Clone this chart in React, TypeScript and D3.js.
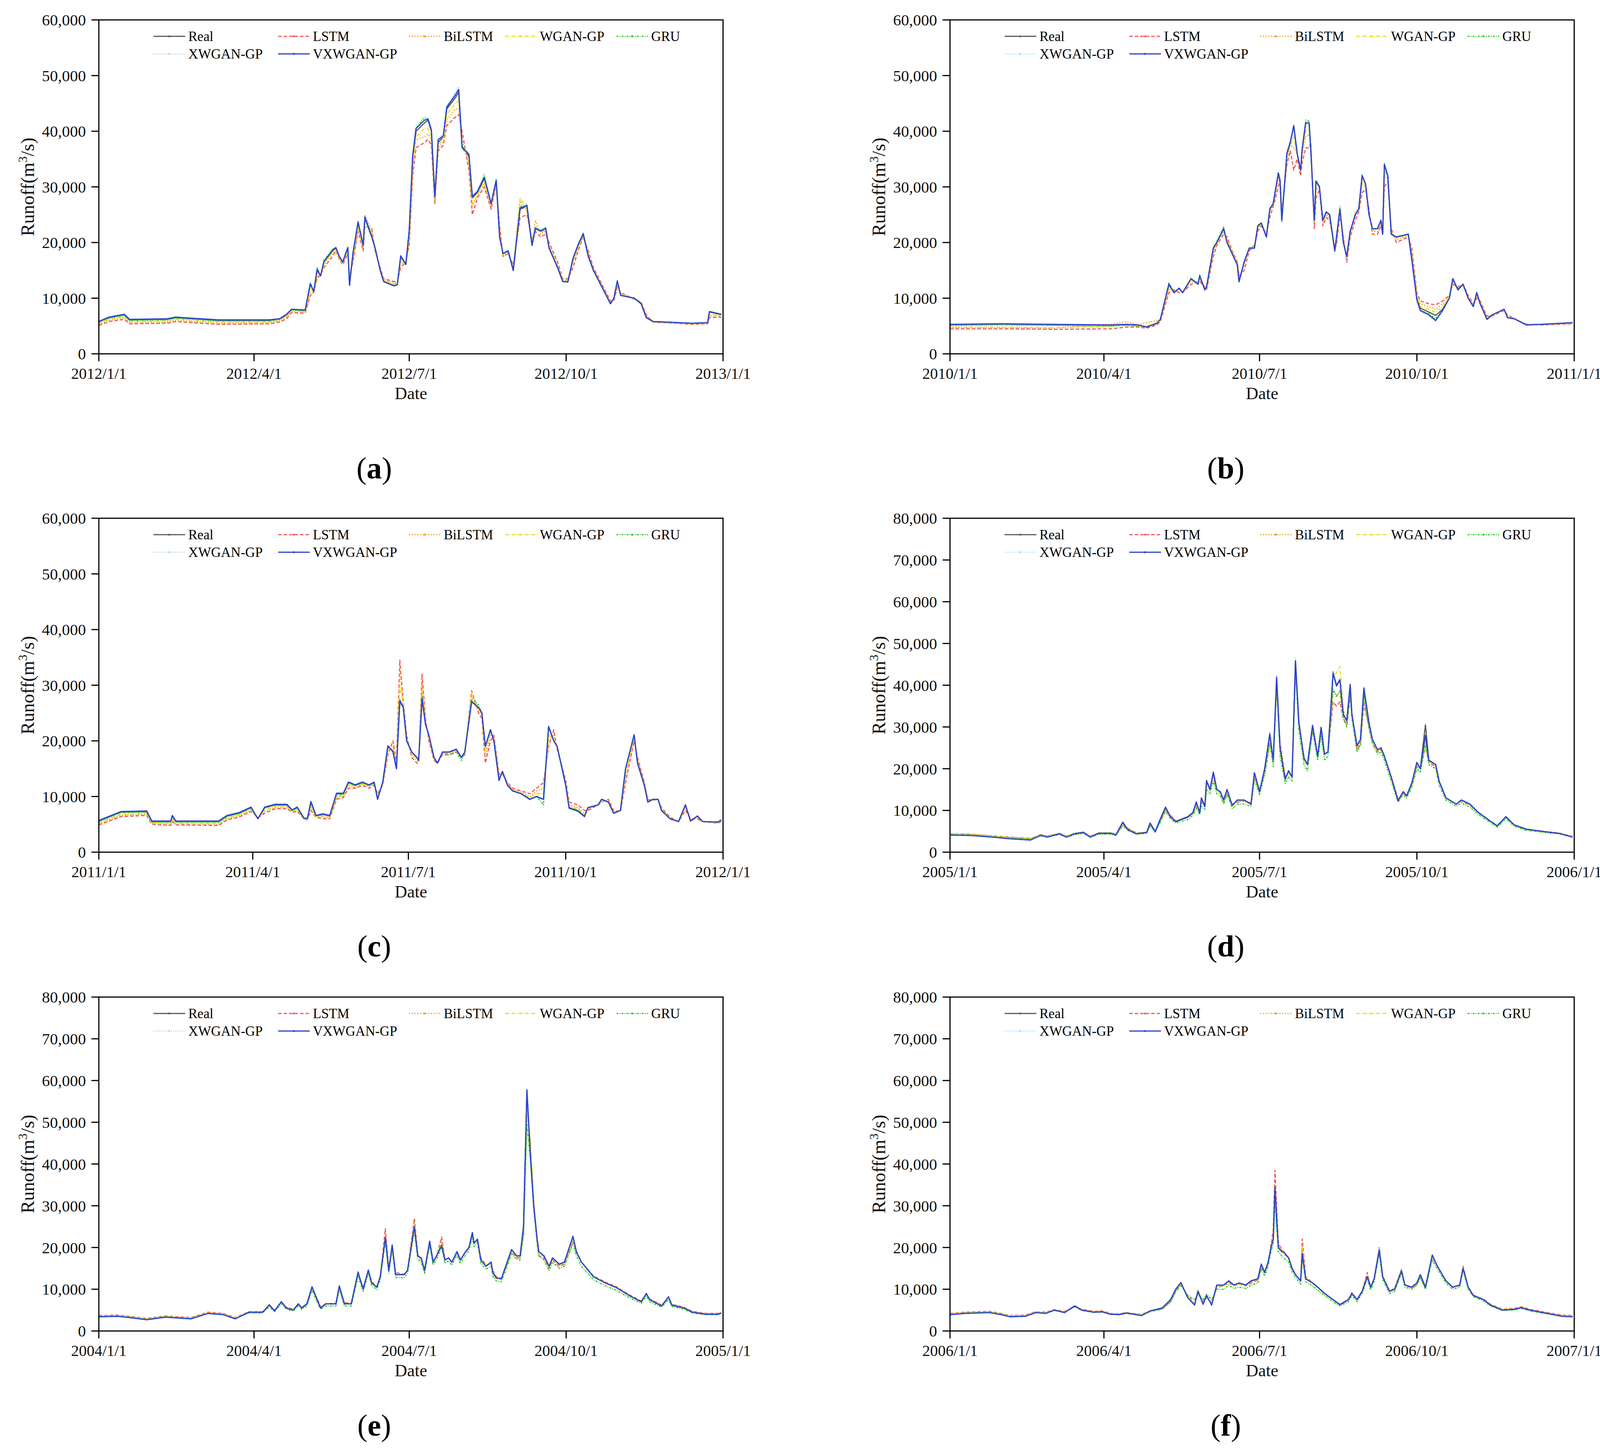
import React from 'react';
import * as d3 from 'd3';

// ---------- series meta ----------
const SERIES_NAMES = ['Real', 'LSTM', 'BiLSTM', 'WGAN-GP', 'GRU', 'XWGAN-GP', 'VXWGAN-GP'];
const SERIES_COLORS = ['#5a5a5a', '#f45a5a', '#f0a030', '#e6dc28', '#28cc28', '#9edff5', '#2a40d0'];
const SERIES_DASH = ['none', '9,5', '3,4', '9,3,2,3', '5,3,2,3', '2,3', 'none'];

// ---------- axes ----------
const Y_TICKS_60 = [0, 10000, 20000, 30000, 40000, 50000, 60000];
const Y_TICKS_80 = [0, 10000, 20000, 30000, 40000, 50000, 60000, 70000, 80000];
const PANEL_LABELS = ['a', 'b', 'c', 'd', 'e', 'f'];
const PANEL_YEARS = [2012, 2010, 2011, 2005, 2004, 2006];
const X_TITLE = 'Date';

// ---------- data (day of year offset, values in 10^3 m3/s) ----------
// (a) 2012
const aDays = [0,6,15,18,40,45,70,100,106,110, 113,121,124,126,128,130,132,137,139,141, 143,146,147,149,152,155,156,160,162,165, 167,173,175,177,180,182,184,186,191,193, 195,197,199,202,204,209,211,213,217,219, 222,226,230,233,235,237,240,243,247,251, 254,256,259,262,264,269,272,275,278,281, 284,287,290,295,300,302,304,306,314,318, 321,325,348,357,358,365];
const aReal = [5.8,6.5,7.0,6.1,6.2,6.5,6.0,6.0,6.3,7.0, 8.0,7.8,12.5,11.2,15.0,14.0,16.5,18.5,19.0,17.5, 16.5,19.0,12.5,18.0,23.5,19.5,24.5,21.0,19.0,15.0, 13.0,12.3,12.5,17.5,16.0,22.0,35.0,40.0,41.5,42.0, 40.0,28.0,38.0,39.0,44.0,46.0,47.0,37.0,35.5,28.0, 29.0,31.5,27.0,31.0,21.0,18.0,18.5,15.0,26.0,26.5, 19.5,22.5,22.0,22.5,19.0,15.5,13.0,13.0,17.0,19.5, 21.5,17.5,15.0,12.0,9.0,10.0,13.0,10.5,10.0,9.0, 6.5,5.8,5.5,5.6,7.5,7.0];
const aLSTM = [5.1,5.8,6.2,5.4,5.5,5.8,5.3,5.4,5.7,6.3, 7.4,7.3,10.5,11.0,13.5,14.2,15.5,17.5,18.5,17.0, 16.0,18.0,14.0,16.5,22.0,18.5,23.0,22.5,18.5,15.5, 13.5,13.0,13.0,15.5,16.5,19.5,32.0,37.0,38.0,38.5, 37.5,27.0,36.5,37.5,41.0,42.5,43.0,40.0,33.0,25.0, 28.0,30.0,26.0,30.5,23.0,17.5,18.0,16.0,24.5,25.0, 20.5,22.0,21.0,21.5,20.0,16.5,13.5,13.5,15.5,18.5, 21.0,18.5,15.5,12.5,9.5,9.5,12.0,11.0,9.8,9.3, 7.0,5.7,5.3,5.4,6.5,6.6];
const aBiLSTM = [5.3,6.0,6.5,5.6,5.7,6.0,5.5,5.6,5.9,6.6, 7.6,7.5,11.0,11.0,14.0,14.0,16.0,18.0,18.5,17.0, 16.2,18.5,13.5,17.0,22.5,19.0,25.0,22.0,18.5,15.0, 13.3,12.8,12.8,16.5,16.0,20.5,33.5,38.5,39.0,39.5, 38.5,27.5,37.0,38.0,42.0,44.0,44.0,38.5,34.0,26.5, 28.5,30.5,26.5,31.0,22.0,17.5,18.2,15.5,27.5,25.5, 20.0,24.0,21.5,22.0,19.5,16.0,13.5,13.3,16.5,19.0, 21.2,18.0,15.2,12.3,9.3,9.8,12.5,10.8,9.9,9.2, 6.8,5.7,5.4,5.5,6.8,6.8];
const aWGAN = [5.5,6.2,6.7,5.8,5.9,6.2,5.7,5.7,6.0,6.8, 7.8,7.6,11.8,11.0,14.5,14.0,16.2,18.2,18.8,17.2, 16.3,18.8,13.0,17.5,23.0,19.2,24.5,21.5,18.8,15.0, 13.2,12.6,12.7,17.0,16.0,21.0,34.0,39.0,40.5,40.5, 39.0,28.0,37.5,38.5,43.0,45.0,45.5,37.5,35.0,27.0, 28.5,31.0,26.8,31.0,21.5,17.8,18.3,15.3,28.0,26.0, 19.8,23.0,21.8,22.2,19.2,15.8,13.2,13.2,16.8,19.2, 21.3,17.8,15.1,12.1,9.1,9.9,12.8,10.6,9.9,9.1, 6.6,5.7,5.5,5.5,7.0,6.9];
const aGRU = [5.7,6.4,6.9,6.0,6.1,6.4,5.9,5.9,6.2,6.9, 7.9,7.7,12.8,11.2,15.5,14.0,16.8,18.8,19.0,17.5, 16.5,19.2,12.5,18.0,23.5,19.5,24.0,21.0,19.0,15.0, 13.0,12.3,12.5,17.5,16.0,22.0,35.5,40.5,42.5,42.0, 40.0,28.5,38.5,39.0,44.5,46.5,47.5,37.0,36.0,28.5, 29.0,32.0,27.0,31.0,21.0,18.0,18.5,15.0,26.5,26.5, 19.5,22.5,22.0,22.5,19.0,15.5,13.0,13.0,17.0,19.5, 21.5,17.5,15.0,12.0,9.0,10.0,13.0,10.5,10.0,9.0, 6.5,5.8,5.5,5.6,7.5,7.0];
const aXW = [5.9,6.6,7.0,6.2,6.3,6.6,6.1,6.1,6.4,7.1, 8.1,7.9,12.8,11.0,15.5,14.2,16.8,19.0,19.2,17.5, 16.5,19.2,12.3,18.2,24.0,19.5,24.8,21.2,19.2,15.2, 13.0,12.3,12.5,17.8,16.2,22.5,36.0,41.0,42.5,42.5, 40.5,28.5,39.0,39.5,44.5,47.0,48.0,37.5,36.0,28.5, 29.5,32.5,27.0,31.5,21.0,18.2,18.8,15.2,26.5,27.0, 19.8,22.8,22.2,22.8,19.2,15.8,13.0,13.0,17.2,19.8, 21.8,17.8,15.0,12.0,9.0,10.0,13.2,10.5,10.0,9.0, 6.5,5.8,5.5,5.6,7.5,7.0];
const aVX = [5.8,6.6,7.1,6.2,6.3,6.6,6.1,6.1,6.3,7.1, 8.0,7.9,12.6,11.2,15.2,14.0,16.6,18.6,19.1,17.5, 16.5,19.1,12.3,18.1,23.7,19.5,24.6,21.1,19.0,15.0, 13.0,12.2,12.4,17.6,16.1,22.2,35.5,40.5,42.0,42.2, 40.2,28.2,38.5,39.2,44.3,46.5,47.5,37.2,35.8,28.2, 29.2,31.7,27.0,31.2,21.0,18.0,18.5,15.0,26.2,26.7, 19.5,22.6,22.1,22.6,19.0,15.5,13.0,12.9,17.1,19.6, 21.6,17.5,15.0,12.0,9.0,10.0,13.1,10.5,10.0,9.0, 6.5,5.8,5.5,5.6,7.6,7.1];

// (b) 2010
const bDays = [0,30,60,94,103,110,115,121,123,128, 131,134,136,141,145,146,149,150,154,156, 160,162,165,168,169,172,175,178,180,182, 185,187,189,192,193,194,197,199,201,203, 205,206,208,210,211,213,214,216,218,220, 222,225,226,228,230,232,234,237,239,241, 243,245,247,250,252,253,254,256,258,261, 268,270,273,275,280,284,288,292,294,297, 300,303,306,308,310,314,317,324,326,330, 337,346,364];
const bReal = [5.2,5.3,5.2,5.1,5.2,5.1,4.9,5.5,6.2,12.5, 11.0,11.8,11.0,13.5,12.5,14.0,11.5,12.0,19.0,20.0, 22.5,20.0,18.0,16.0,13.0,16.5,19.0,19.0,23.0,23.5, 21.0,26.0,27.0,32.5,31.0,24.0,36.0,38.0,41.0,36.0, 33.0,37.0,41.5,41.5,36.5,24.0,31.0,30.0,24.0,25.5, 25.0,18.5,21.0,26.0,20.0,17.5,22.0,25.0,26.0,32.0, 30.5,25.0,22.5,22.5,24.0,21.5,34.0,32.0,21.5,21.0, 21.5,17.0,10.0,8.2,7.5,6.9,8.0,10.0,13.5,11.5, 12.5,10.0,8.5,11.0,9.0,6.2,7.0,8.0,6.5,6.3, 5.2,5.3,5.6];
const bLSTM = [4.5,4.5,4.4,4.5,4.8,4.8,4.6,5.2,5.8,11.0, 11.5,11.0,11.0,12.5,13.0,13.0,12.0,11.5,17.5,19.5, 21.5,21.0,18.5,16.5,14.0,15.0,18.5,19.5,22.0,23.0, 21.5,24.5,26.5,30.0,31.5,25.5,34.0,36.5,33.0,35.0, 32.0,34.5,37.0,37.0,38.0,22.5,28.0,29.5,23.0,24.5, 24.0,19.0,19.5,25.0,21.0,16.5,21.0,24.0,25.5,29.0, 29.5,26.0,21.5,21.5,23.0,22.0,30.0,31.0,22.5,20.0, 21.0,19.0,11.0,9.5,9.0,8.8,9.5,10.5,12.5,12.0, 12.5,10.5,9.0,10.0,9.5,6.8,6.8,7.8,7.0,6.3, 5.3,5.2,5.4];
const bBiLSTM = [4.7,4.7,4.6,5.3,5.8,5.2,5.6,6.0,6.0,11.5, 11.2,11.5,11.0,13.0,13.0,13.5,12.0,11.8,18.0,20.0, 22.0,20.5,18.5,16.5,13.5,16.0,19.0,19.5,22.5,23.5, 21.5,25.5,27.0,31.5,31.5,25.0,35.0,37.5,37.0,36.0, 32.5,36.0,39.0,39.5,37.5,23.5,29.5,30.0,23.5,25.0, 24.5,18.5,20.0,26.5,20.5,17.0,21.5,25.5,26.0,30.5, 30.0,25.5,22.0,22.0,23.5,21.5,32.0,31.5,22.0,20.5, 21.2,18.0,10.5,9.0,8.5,8.0,9.0,10.5,13.0,11.8, 12.5,10.2,8.8,10.5,9.2,6.5,7.0,8.0,6.8,6.3, 5.3,5.3,5.5];
const bWGAN = [4.8,4.8,4.7,4.9,5.3,5.0,5.0,5.6,6.1,12.0, 11.0,11.6,11.0,13.2,12.8,13.8,11.8,12.0,18.5,20.0, 22.0,20.3,18.2,16.2,13.3,16.3,19.0,19.2,22.8,23.3, 21.2,25.8,27.0,32.0,31.2,24.5,35.5,37.5,39.0,36.0, 33.0,36.5,40.0,40.5,37.0,23.8,30.5,30.0,23.8,25.2, 24.8,18.5,20.5,26.0,20.2,17.2,21.8,25.2,26.0,31.0, 30.2,25.2,22.3,22.3,23.8,21.5,33.0,31.8,21.8,20.8, 21.3,17.5,10.2,8.5,8.0,7.5,8.5,10.2,13.2,11.6, 12.5,10.1,8.6,10.8,9.1,6.3,7.0,8.0,6.6,6.3, 5.2,5.3,5.5];
const bGRU = [5.1,5.2,5.1,5.0,5.1,5.0,4.8,5.4,6.2,12.8, 11.0,11.8,11.0,13.6,12.5,14.2,11.5,12.0,19.2,20.2, 22.8,20.0,18.0,16.0,12.8,16.5,19.0,19.0,23.2,23.5, 21.0,26.2,27.0,32.5,31.0,23.8,36.2,38.2,41.0,36.0, 33.0,37.2,42.0,41.8,36.5,24.0,31.2,30.2,24.0,25.5, 25.0,18.3,21.0,26.2,20.0,17.3,22.0,25.0,26.0,32.2, 30.5,25.0,22.5,22.5,24.0,21.5,34.2,32.0,21.5,21.0, 21.5,17.0,9.8,7.8,7.2,6.3,7.8,10.0,13.6,11.5, 12.6,10.0,8.5,11.0,9.0,6.2,7.0,8.0,6.5,6.3, 5.2,5.3,5.6];
const bXW = [5.2,5.3,5.2,5.1,5.2,5.1,4.9,5.5,6.3,12.6, 11.0,11.8,11.0,13.5,12.5,14.0,11.4,12.0,19.0,20.2, 22.6,20.0,18.0,16.0,12.7,16.5,19.0,19.0,23.0,23.5, 21.0,26.0,27.2,32.7,31.0,23.5,36.0,38.2,41.2,36.0, 33.0,37.0,41.8,41.6,36.5,23.8,31.0,30.0,23.8,25.5, 25.0,18.2,21.0,26.2,20.0,17.2,22.0,25.0,26.0,32.0, 30.5,25.0,22.5,22.5,24.0,21.5,34.0,32.0,21.5,21.0, 21.5,16.8,9.5,7.5,7.0,5.8,7.6,10.0,13.5,11.5, 12.5,10.0,8.4,11.0,9.0,6.0,7.0,8.0,6.5,6.3, 5.2,5.3,5.6];
const bVX = [5.3,5.4,5.3,5.2,5.3,5.2,4.8,5.5,6.2,12.5, 11.0,11.8,11.0,13.5,12.5,14.0,11.5,12.0,19.0,20.0, 22.5,20.0,18.0,16.0,13.0,16.5,19.0,19.0,23.0,23.5, 21.0,26.0,27.0,32.5,31.0,24.0,36.0,38.0,41.0,36.0, 33.0,37.0,41.5,41.5,36.5,24.0,31.0,30.0,24.0,25.5, 25.0,18.5,21.0,26.0,20.0,17.5,22.0,25.0,26.0,32.0, 30.5,25.0,22.5,22.5,24.0,21.5,34.0,32.0,21.5,21.0, 21.5,17.0,9.7,7.8,7.0,6.0,7.8,10.0,13.5,11.5, 12.5,10.0,8.5,11.0,9.0,6.2,7.0,8.0,6.5,6.3, 5.2,5.3,5.6];

// (c) 2011
const cDays = [0,13,28,31,42,43,45,70,75,82, 89,93,97,103,110,113,116,120,122,124, 127,131,135,139,143,146,150,154,158,161, 163,166,169,172,174,176,178,180,183,186, 187,189,191,193,196,198,201,205,209,212, 214,218,222,224,226,229,231,234,236,239, 242,247,252,256,260,263,266,268,273,275, 280,284,286,292,294,298,301,305,308,313, 315,319,321,324,327,329,334,339,343,346, 350,353,362,364];
const cReal = [5.6,7.2,7.3,5.5,5.5,6.5,5.5,5.5,6.5,7.0, 8.0,6.0,8.0,8.5,8.5,7.5,8.0,6.0,6.0,9.0, 6.5,6.8,6.5,10.5,10.5,12.5,12.0,12.5,12.0,12.5, 9.5,12.5,19.0,18.0,15.0,27.0,26.0,20.0,18.0,17.0, 16.5,27.5,23.0,21.0,17.0,16.0,18.0,18.0,18.5,17.0, 18.0,27.0,26.0,25.0,19.0,22.0,20.0,13.0,14.5,12.0, 11.0,10.5,9.5,10.0,9.5,22.5,20.0,19.0,12.0,8.0, 7.5,6.5,8.0,8.5,9.5,9.0,7.0,7.5,15.0,21.0, 16.0,12.0,9.0,9.5,9.5,7.5,6.0,5.5,8.5,5.6, 6.5,5.5,5.4,5.8];
const cLSTM = [4.9,6.4,6.6,5.0,4.8,5.5,4.9,4.8,5.8,6.3, 7.3,6.2,7.0,7.8,7.8,7.2,7.3,6.0,5.8,7.5, 6.3,6.0,6.0,9.5,9.8,11.5,11.5,12.0,11.5,12.0, 10.5,12.0,17.5,20.0,16.0,34.5,27.0,21.0,17.0,16.0, 16.0,32.0,24.0,20.0,16.5,16.0,17.5,17.5,18.0,17.0, 17.5,29.0,25.0,24.0,16.0,20.0,21.0,14.0,14.0,12.5, 11.5,11.0,10.5,11.5,12.5,19.0,22.0,18.5,13.0,9.0, 8.5,7.5,7.5,8.5,9.0,9.5,7.5,7.3,12.5,20.0, 17.0,12.5,9.5,9.3,9.5,8.0,6.3,5.5,7.5,6.0, 6.0,5.5,5.2,5.5];
const cBiLSTM = [5.1,6.6,6.8,5.2,5.0,5.8,5.1,5.0,6.0,6.5, 7.5,6.2,7.3,8.0,8.0,7.3,7.5,6.0,5.9,8.0, 6.4,6.3,6.2,9.8,10.0,12.0,11.6,12.2,11.8,12.2, 10.0,12.2,18.0,19.0,15.5,33.0,26.5,20.5,17.5,16.5, 16.2,30.5,23.5,20.5,16.8,16.0,17.8,17.8,18.2,17.0, 17.8,29.0,25.5,24.5,17.0,21.0,20.5,13.5,14.2,12.3, 11.3,10.8,10.0,11.0,11.5,20.0,21.0,19.0,12.5,8.5, 8.0,7.0,7.8,8.5,9.2,9.2,7.2,7.4,13.5,20.5, 16.5,12.2,9.2,9.4,9.5,7.8,6.1,5.5,8.0,5.8, 6.3,5.5,5.3,5.6];
const cWGAN = [5.3,6.8,7.0,5.3,5.2,6.0,5.2,5.2,6.2,6.7, 7.7,6.1,7.6,8.2,8.2,7.4,7.7,6.0,5.9,8.5, 6.4,6.5,6.3,10.0,10.2,12.2,11.8,12.3,11.9,12.3, 9.8,12.3,18.5,18.5,15.2,30.0,26.5,20.2,17.8,16.8, 16.3,29.0,23.2,20.8,16.9,16.0,17.9,17.9,18.3,17.0, 17.9,28.0,25.8,24.8,18.0,21.5,20.2,13.2,14.3,12.1, 11.2,10.6,9.8,10.5,10.5,21.0,20.5,19.0,12.2,8.2, 7.8,6.8,7.9,8.5,9.3,9.1,7.1,7.4,14.0,20.8, 16.2,12.1,9.1,9.4,9.5,7.7,6.0,5.5,8.2,5.7, 6.4,5.5,5.3,5.7];
const cGRU = [5.5,7.1,7.2,5.4,5.4,6.3,5.4,5.4,6.4,6.9, 7.9,6.0,7.9,8.4,8.4,7.5,7.9,6.0,6.0,8.8, 6.5,6.7,6.5,10.3,10.4,12.4,12.0,12.4,12.0,12.4, 9.6,12.4,19.0,18.0,15.0,27.5,26.0,20.0,18.0,17.0, 16.5,28.0,23.0,21.0,17.0,16.0,18.0,17.5,18.0,16.5, 18.0,27.5,26.5,25.0,19.0,22.0,20.0,13.0,14.5,12.0, 11.0,10.5,9.5,10.0,8.5,22.5,20.0,19.0,12.0,8.0, 7.5,6.5,8.0,8.5,9.5,9.0,7.0,7.5,15.0,21.0, 16.0,12.0,9.0,9.5,9.5,7.5,6.0,5.5,8.5,5.6, 6.5,5.5,5.4,5.8];
const cXW = [5.7,7.3,7.4,5.6,5.6,6.6,5.6,5.6,6.6,7.1, 8.1,6.0,8.1,8.6,8.6,7.6,8.1,6.1,6.1,9.1, 6.6,6.9,6.6,10.6,10.6,12.6,12.1,12.6,12.1,12.6, 9.5,12.6,19.2,18.0,15.0,27.0,26.2,20.0,18.0,17.0, 16.5,27.5,23.0,21.0,17.0,16.0,18.0,18.0,18.5,17.0, 18.0,27.0,26.0,25.0,19.0,22.0,20.0,12.8,14.5,12.0, 11.0,10.5,9.5,10.0,9.5,22.5,20.0,19.0,12.0,7.8, 7.3,6.3,8.0,8.5,9.5,9.0,7.0,7.5,15.0,21.0, 16.0,12.0,9.0,9.5,9.5,7.5,6.0,5.5,8.5,5.6, 6.5,5.5,5.4,5.8];
const cVX = [5.7,7.3,7.4,5.6,5.6,6.6,5.6,5.6,6.6,7.1, 8.1,6.0,8.1,8.6,8.6,7.6,8.1,6.1,6.1,9.1, 6.6,6.9,6.6,10.6,10.6,12.6,12.1,12.6,12.1,12.6, 9.5,12.6,19.1,18.1,15.0,27.2,26.1,20.0,18.0,17.0, 16.5,27.6,23.0,21.0,17.0,16.0,18.0,18.0,18.5,17.0, 18.0,27.1,26.0,25.0,19.0,22.0,20.0,12.9,14.5,12.0, 11.0,10.5,9.5,10.0,9.5,22.6,20.0,19.0,12.0,7.9, 7.4,6.4,8.0,8.5,9.5,9.0,7.0,7.5,15.0,21.1, 16.0,12.0,9.0,9.5,9.5,7.5,6.0,5.5,8.5,5.6, 6.5,5.5,5.4,5.8];

// (d) 2005
const dDays = [0,12,25,35,47,53,57,64,68,73, 78,82,87,94,97,101,104,109,115,117, 120,123,126,129,132,139,142,144,146,147, 149,150,152,154,156,158,160,162,165,168, 172,176,178,181,184,187,189,191,193,196, 198,200,202,204,207,209,212,215,217,219, 221,224,226,228,230,232,234,235,238,240, 242,245,247,250,252,254,258,262,265,267, 270,273,275,278,280,284,286,290,296,299, 304,309,314,320,325,330,337,346,356,364];
const dReal = [4.3,4.2,3.8,3.5,3.2,4.2,3.8,4.5,3.8,4.5, 4.8,3.8,4.6,4.6,4.2,7.2,5.5,4.5,4.8,7.0, 5.0,8.0,10.8,8.5,7.4,8.5,9.5,12.0,9.5,13.0, 11.0,17.2,15.0,19.2,15.0,14.5,12.5,15.0,11.2,12.5, 12.5,11.5,19.0,14.5,20.0,28.5,22.0,42.0,25.0,17.5, 19.5,18.0,46.0,31.0,22.5,21.0,30.5,23.0,30.0,23.5, 24.0,43.2,40.0,41.5,33.0,31.5,40.2,33.0,25.5,27.0, 39.5,31.0,27.0,24.5,25.0,23.0,18.0,12.3,14.5,13.5, 16.5,21.5,20.0,30.5,22.0,21.0,17.0,13.0,11.5,12.5, 11.5,9.5,8.0,6.3,8.5,6.5,5.5,5.0,4.5,3.7];
const dLSTM = [4.4,4.3,3.9,3.6,3.3,4.0,3.9,4.4,3.9,4.4, 4.7,3.9,4.5,4.6,4.3,6.5,5.7,4.6,4.7,6.5, 5.2,7.5,10.0,8.8,7.5,8.3,9.3,11.0,9.8,12.0, 11.2,16.0,15.5,18.0,15.2,14.0,12.0,14.0,11.5,12.0, 12.2,11.8,18.0,15.0,19.0,26.0,22.5,39.5,26.0,18.0, 19.0,18.2,43.5,31.5,22.0,21.0,29.0,23.5,28.5,23.5, 24.0,36.0,35.0,36.0,32.0,30.5,37.0,33.5,24.5,26.0, 35.5,30.0,26.5,24.0,24.5,22.8,18.0,12.8,14.0,13.5, 16.0,20.5,20.0,25.5,21.5,20.5,17.0,13.0,11.5,12.2, 11.3,9.4,8.0,6.3,8.3,6.5,5.5,5.0,4.6,3.8];
const dBiLSTM = [4.4,4.3,3.9,3.6,3.3,4.1,3.9,4.5,3.9,4.5, 4.8,3.9,4.6,4.6,4.2,6.8,5.6,4.6,4.8,6.8, 5.1,7.8,10.2,8.6,7.4,8.4,9.4,11.5,9.6,12.5, 11.0,16.5,15.2,18.5,15.0,14.2,12.2,14.5,11.3,12.2, 12.3,11.6,18.5,14.7,19.5,27.0,22.2,40.5,25.5,17.8, 19.2,18.1,44.5,31.2,22.2,21.0,29.5,23.2,29.0,23.5, 24.0,39.0,37.0,39.0,32.5,31.0,38.0,33.2,25.0,26.5, 37.0,30.5,26.8,24.2,24.8,22.9,18.0,12.5,14.2,13.5, 16.2,21.0,20.0,27.0,21.8,20.8,17.0,13.0,11.5,12.3, 11.4,9.5,8.0,6.3,8.4,6.5,5.5,5.0,4.6,3.8];
const dWGAN = [4.3,4.2,3.8,3.5,3.2,4.1,3.8,4.4,3.8,4.4, 4.7,3.8,4.5,4.5,4.1,6.8,5.4,4.5,4.7,6.8, 5.0,7.7,10.3,8.4,7.3,8.3,9.3,11.5,9.4,12.5, 10.8,16.5,14.8,18.5,14.8,14.2,12.2,14.5,11.0,12.2, 12.2,11.3,18.5,14.3,19.5,27.5,21.8,40.5,24.5,17.3, 19.0,17.8,45.0,30.5,22.2,20.8,30.0,22.8,29.5,23.2, 23.8,42.0,43.0,44.5,34.0,31.5,39.0,33.0,25.2,26.8, 38.5,30.8,26.8,24.2,24.8,22.8,17.8,12.3,14.3,13.4, 16.2,21.0,19.8,27.0,21.8,20.8,16.8,12.9,11.4,12.3, 11.4,9.4,7.9,6.2,8.4,6.4,5.4,4.9,4.5,3.7];
const dGRU = [4.2,4.1,3.7,3.4,3.1,3.9,3.7,4.2,3.6,4.2, 4.5,3.6,4.3,4.3,4.0,6.3,5.2,4.3,4.5,6.3, 4.8,7.2,9.8,8.0,7.0,7.8,8.8,10.5,9.0,11.0, 10.2,15.0,14.0,17.0,14.0,13.5,11.5,13.8,10.5,11.5, 11.5,11.0,17.5,13.8,18.5,26.0,20.5,40.0,23.0,16.5, 18.0,17.0,44.0,29.0,21.0,19.5,29.0,22.0,28.0,22.0, 23.0,39.0,37.5,38.5,32.0,30.0,38.0,32.0,24.0,25.5, 37.5,29.5,26.0,23.5,24.0,22.0,17.0,12.0,13.8,13.0, 15.5,20.0,19.0,25.5,21.0,20.0,16.0,12.5,11.0,11.8, 10.8,9.0,7.6,6.0,8.0,6.2,5.2,4.8,4.4,3.7];
const dXW = [4.2,4.1,3.7,3.3,3.0,4.1,3.7,4.4,3.7,4.4, 4.7,3.7,4.5,4.5,4.1,7.1,5.4,4.4,4.7,6.9, 4.9,7.9,10.7,8.4,7.3,8.4,9.4,12.0,9.4,13.0, 10.9,17.2,15.0,19.2,15.0,14.5,12.5,15.0,11.2,12.5, 12.5,11.5,19.2,14.5,20.0,28.5,22.0,42.5,25.0,17.5, 19.5,18.0,46.5,31.0,22.5,21.0,30.5,23.0,30.0,23.5, 24.0,43.0,40.0,41.5,33.0,31.5,40.0,33.0,25.5,27.0, 39.5,31.0,27.0,24.5,25.0,23.0,18.0,12.3,14.5,13.5, 16.5,21.5,20.0,28.0,22.0,21.0,17.0,13.0,11.5,12.5, 11.5,9.5,8.0,6.3,8.5,6.5,5.5,5.0,4.5,3.7];
const dVX = [4.1,4.0,3.6,3.2,2.9,4.0,3.6,4.4,3.6,4.4, 4.7,3.6,4.5,4.5,4.1,7.1,5.4,4.4,4.7,6.9, 4.9,7.9,10.7,8.4,7.3,8.4,9.4,12.0,9.4,13.0, 10.9,17.1,15.0,19.1,15.0,14.5,12.5,15.0,11.2,12.5, 12.5,11.5,19.0,14.5,20.0,28.2,22.0,41.8,25.0,17.5, 19.5,18.0,45.8,31.0,22.5,21.0,30.3,23.0,29.8,23.5, 24.0,42.8,39.8,41.2,33.0,31.5,40.0,33.0,25.5,27.0, 39.2,31.0,27.0,24.5,25.0,23.0,18.0,12.3,14.5,13.5, 16.5,21.5,20.0,28.0,22.0,21.0,17.0,13.0,11.5,12.5, 11.5,9.5,8.0,6.3,8.5,6.5,5.5,5.0,4.5,3.6];

// (e) 2004
const eDays = [0,11,18,28,39,54,64,73,80,88, 96,100,103,107,110,114,117,119,122,125, 128,130,133,139,141,144,148,152,155,158, 160,163,165,168,170,172,174,179,181,185, 187,189,191,194,196,198,201,203,205,207, 210,212,215,217,219,220,222,224,227,230, 231,233,236,239,242,245,247,249,251,253, 255,257,258,261,264,266,270,273,278,280, 283,290,297,303,311,318,321,323,330,334, 336,343,348,356,363,365];
const eReal = [3.5,3.6,3.3,2.8,3.4,3.0,4.3,4.0,3.0,4.5, 4.5,6.2,4.8,7.0,5.5,5.0,6.5,5.5,6.5,10.5, 7.5,5.5,6.5,6.5,10.7,6.5,6.5,14.0,10.0,14.5, 11.5,10.5,13.0,22.5,14.5,20.5,13.5,13.5,14.5,25.0, 18.0,17.5,14.5,21.5,16.5,18.0,20.5,17.0,17.5,16.5, 19.0,17.0,19.0,20.0,23.5,21.0,22.0,17.0,15.5,16.5, 14.0,12.7,12.5,16.0,19.5,18.0,18.0,25.0,57.5,42.0, 30.0,22.0,19.0,18.0,15.5,17.5,16.0,16.5,22.5,19.0, 16.5,13.0,11.5,10.5,8.5,7.0,8.8,7.5,6.0,8.0, 6.2,5.5,4.5,4.0,4.0,4.3];
const eLSTM = [3.7,3.8,3.5,3.0,3.6,3.2,4.5,4.2,3.2,4.6, 4.6,6.0,5.0,6.8,5.7,5.2,6.3,5.7,6.4,10.0, 7.8,5.8,6.5,6.6,10.2,6.8,6.6,13.5,10.5,14.2, 11.8,10.6,12.8,24.5,15.0,20.0,14.0,13.6,14.5,27.0, 18.5,17.0,15.0,21.0,16.8,17.8,22.5,17.0,17.5,16.5, 18.8,17.2,18.8,20.0,23.0,21.5,21.5,17.5,15.8,16.0, 14.5,13.0,12.6,15.5,19.0,17.5,17.5,23.0,54.0,44.0, 31.0,21.0,18.0,17.5,15.0,17.0,15.5,16.0,21.5,18.8, 16.5,13.2,11.7,10.7,8.7,7.2,8.8,7.7,6.2,8.0, 6.4,5.7,4.7,4.2,4.2,4.4];
const eBiLSTM = [3.6,3.7,3.4,2.9,3.5,3.1,4.4,4.1,3.1,4.5, 4.5,6.1,4.9,6.9,5.6,5.1,6.4,5.6,6.5,10.2, 7.6,5.6,6.5,6.5,10.5,6.6,6.5,13.8,10.2,14.3, 11.6,10.5,12.9,23.0,14.8,20.3,13.8,13.5,14.5,26.0, 18.2,17.2,14.8,21.2,16.6,17.9,21.5,17.0,17.5,16.5, 18.9,17.1,18.9,20.0,23.2,21.2,21.8,17.2,15.6,16.2, 14.2,12.8,12.5,15.8,19.2,17.8,17.8,24.0,53.0,45.0, 30.5,21.5,18.5,17.8,15.2,17.2,15.8,16.2,22.0,18.9, 16.5,13.1,11.6,10.6,8.6,7.1,8.8,7.6,6.1,8.0, 6.3,5.6,4.6,4.1,4.1,4.4];
const eWGAN = [3.5,3.6,3.3,2.8,3.4,3.0,4.3,4.0,3.0,4.5, 4.5,6.1,4.8,6.9,5.5,5.0,6.4,5.5,6.4,10.3, 7.5,5.5,6.4,6.5,10.5,6.5,6.4,13.8,10.0,14.3, 11.4,10.4,12.9,22.5,14.6,20.3,13.6,13.4,14.4,25.5, 18.0,17.3,14.6,21.5,16.5,17.9,21.0,17.0,17.4,16.4, 18.9,17.0,19.0,20.0,23.4,21.0,22.0,17.0,15.5,16.3, 14.0,12.6,12.4,15.8,19.3,17.9,17.9,24.5,52.5,46.0, 30.0,22.0,19.0,17.9,15.3,17.3,15.9,16.3,22.3,19.0, 16.5,13.0,11.5,10.5,8.5,7.0,8.8,7.5,6.0,8.0, 6.2,5.5,4.5,4.0,4.0,4.3];
const eGRU = [3.5,3.6,3.3,2.8,3.4,3.0,4.2,3.9,3.0,4.3, 4.3,5.8,4.6,6.5,5.2,4.8,6.0,5.2,6.0,9.8, 7.0,5.2,6.0,6.0,10.0,6.0,6.0,13.0,9.5,13.8, 10.8,10.0,12.2,21.5,13.8,19.5,12.8,12.8,13.8,24.0, 17.2,16.5,13.8,20.5,15.8,17.2,20.0,16.2,16.8,15.8, 18.2,16.2,18.2,19.2,22.5,20.2,21.2,16.2,14.8,15.5, 13.2,12.0,11.8,15.0,18.5,17.2,17.0,23.0,49.5,41.0, 29.0,21.0,18.0,17.0,14.5,16.5,15.0,15.5,21.0,18.0, 15.5,12.3,10.8,9.8,8.0,6.6,8.3,7.0,5.7,7.5, 5.9,5.2,4.3,3.9,3.9,4.2];
const eXW = [3.5,3.6,3.3,2.8,3.4,3.0,4.3,4.0,3.0,4.5, 4.5,6.3,4.8,7.0,5.5,5.0,6.5,5.5,6.5,10.5, 7.5,5.5,6.5,6.5,10.8,6.5,6.5,14.2,10.0,14.6, 11.5,10.5,13.0,22.5,14.5,20.5,13.5,13.5,14.5,25.0, 18.0,17.5,14.5,21.5,16.5,18.0,20.5,17.0,17.5,16.5, 19.0,17.0,19.0,20.0,23.5,21.0,22.0,17.0,15.5,16.5, 14.0,12.7,12.5,16.0,19.5,18.0,18.0,25.0,56.5,42.5, 30.0,22.0,19.0,18.0,15.5,17.5,16.0,16.5,22.5,19.0, 16.5,13.0,11.5,10.5,8.5,7.0,8.8,7.5,6.0,8.0, 6.2,5.5,4.5,4.0,4.0,4.3];
const eVX = [3.4,3.5,3.2,2.7,3.3,2.9,4.2,3.9,2.9,4.5, 4.5,6.3,4.8,7.0,5.5,5.0,6.5,5.5,6.5,10.6, 7.5,5.5,6.5,6.5,10.8,6.5,6.5,14.1,10.0,14.6, 11.5,10.5,13.0,22.4,14.5,20.6,13.5,13.5,14.5,25.0, 18.0,17.5,14.5,21.5,16.5,18.0,20.5,17.0,17.5,16.5, 19.0,17.0,19.0,20.0,23.6,21.0,22.0,17.0,15.5,16.5, 14.0,12.7,12.5,16.0,19.5,18.0,18.0,25.0,57.8,42.5, 30.0,22.0,19.0,18.0,15.5,17.5,16.0,16.5,22.7,19.0, 16.5,13.0,11.5,10.5,8.5,7.0,9.0,7.5,6.0,8.2, 6.2,5.5,4.5,4.0,4.0,4.3];

// (f) 2006
const fDays = [0,9,23,30,35,44,50,56,61,67, 73,77,84,89,94,99,103,112,117,124, 129,132,135,139,143,145,148,150,153,156, 160,163,166,169,173,176,180,182,184,186, 188,189,190,192,194,195,198,200,202,205, 206,208,212,215,219,224,228,233,235,238, 241,244,246,248,251,253,257,260,264,266, 270,273,275,278,282,285,290,294,298,300, 303,306,312,316,323,330,334,339,348,358, 364];
const fReal = [4.0,4.3,4.5,4.0,3.5,3.6,4.5,4.3,5.0,4.5, 6.0,5.0,4.5,4.6,4.0,4.0,4.3,3.8,4.8,5.5, 7.5,10.0,11.5,8.0,6.3,9.5,6.5,8.5,6.3,11.0, 11.0,12.0,11.0,11.5,11.0,12.0,12.5,16.0,14.0,16.5, 20.5,22.0,34.5,20.0,19.0,19.0,17.5,15.0,13.5,12.0, 18.5,12.5,11.5,10.5,9.0,7.5,6.3,7.5,9.0,7.5, 9.5,13.0,10.5,12.5,19.5,13.0,9.5,10.0,14.5,11.0, 10.5,11.5,13.5,10.5,18.0,15.5,12.0,10.5,11.0,15.0, 10.5,8.5,7.5,6.2,5.0,5.2,5.6,5.0,4.3,3.6, 3.5];
const fLSTM = [4.2,4.5,4.7,4.2,3.7,3.8,4.6,4.5,5.1,4.7, 5.8,5.2,4.7,4.8,4.2,4.1,4.4,4.0,4.8,5.3, 7.0,9.5,11.0,8.5,6.5,9.0,7.0,8.0,6.8,10.5, 10.8,11.5,10.8,11.2,10.8,11.5,12.2,15.0,14.5,16.0, 21.5,24.0,38.5,21.0,19.5,18.5,17.5,15.2,13.5,12.0, 22.0,13.0,11.5,10.5,9.0,7.5,6.4,7.6,9.2,7.6, 9.6,14.0,10.5,12.5,20.0,13.2,9.6,10.2,14.8,11.0, 10.2,11.2,13.0,10.2,17.5,15.5,12.0,10.5,10.8,15.5, 10.5,8.6,7.6,6.4,5.2,5.4,5.8,5.2,4.5,3.8, 3.7];
const fBiLSTM = [4.1,4.4,4.6,4.1,3.6,3.7,4.6,4.4,5.1,4.6, 5.9,5.1,4.6,4.7,4.1,4.1,4.4,3.9,4.8,5.4, 7.2,9.7,11.2,8.3,6.4,9.8,6.8,8.2,6.6,10.7, 10.9,11.7,10.9,11.3,10.9,11.8,12.3,15.5,14.2,16.2, 20.8,23.0,34.0,20.5,19.5,19.0,17.5,15.1,13.5,12.0, 20.5,12.8,11.5,10.5,9.0,7.5,6.4,7.6,9.1,7.6, 9.6,13.5,10.5,12.5,19.8,13.1,9.6,10.1,14.6,11.0, 10.3,11.3,13.2,10.3,17.8,15.5,12.0,10.5,10.9,15.2, 10.5,8.6,7.6,6.3,5.1,5.3,5.7,5.1,4.4,3.7, 3.6];
const fWGAN = [4.1,4.3,4.5,4.1,3.6,3.7,4.5,4.3,5.0,4.5, 5.9,5.0,4.6,4.6,4.1,4.0,4.3,3.9,4.8,5.4, 7.3,9.8,11.3,8.2,6.3,9.8,6.6,8.3,6.5,10.8, 10.8,11.8,10.8,11.3,10.8,11.8,12.3,15.8,14.0,16.3, 20.5,22.5,32.5,20.2,19.2,18.8,17.3,15.0,13.4,11.9, 19.5,12.6,11.4,10.4,8.9,7.4,6.3,7.5,9.0,7.5, 9.5,13.2,10.4,12.4,19.6,13.0,9.5,10.0,14.5,11.0, 10.4,11.4,13.3,10.4,17.9,15.4,11.9,10.4,10.9,15.0, 10.4,8.5,7.5,6.2,5.0,5.2,5.6,5.0,4.3,3.6, 3.5];
const fGRU = [4.0,4.3,4.5,4.0,3.5,3.6,4.4,4.3,4.9,4.5, 5.8,4.9,4.5,4.5,4.0,3.9,4.2,3.7,4.6,5.2, 7.0,9.5,11.0,8.5,7.5,9.0,7.5,8.8,7.5,10.0, 10.0,11.0,10.2,10.5,10.2,11.0,11.5,15.0,13.2,15.5, 19.5,21.0,31.0,19.0,18.0,17.5,16.5,14.2,12.8,11.2, 17.5,11.8,10.8,9.8,8.5,7.0,6.0,7.0,8.5,7.0, 9.0,12.5,9.8,11.8,18.5,12.3,9.0,9.5,13.8,10.5, 10.0,11.0,12.8,10.0,17.0,14.8,11.5,10.0,10.5,14.5, 10.0,8.2,7.2,6.0,4.9,5.0,5.4,4.8,4.2,3.5, 3.4];
const fXW = [4.0,4.3,4.5,4.0,3.5,3.6,4.5,4.3,5.0,4.5, 6.0,5.0,4.5,4.6,4.0,4.0,4.3,3.8,4.8,5.5, 7.5,10.0,11.5,8.0,6.3,9.5,6.5,8.5,6.3,11.0, 11.0,12.0,11.0,11.5,11.0,12.0,12.5,16.0,14.0,16.5, 20.5,22.0,33.5,20.0,19.0,19.0,17.5,15.0,13.5,12.0, 18.5,12.5,11.5,10.5,9.0,7.5,6.3,7.5,9.0,7.5, 9.5,13.0,10.5,12.5,20.0,13.0,9.5,10.0,14.5,11.0, 10.5,11.5,13.5,10.5,18.0,15.5,12.0,10.5,11.0,15.0, 10.5,8.5,7.5,6.2,5.0,5.2,5.6,5.0,4.3,3.6, 3.5];
const fVX = [3.9,4.2,4.4,3.9,3.4,3.5,4.4,4.2,5.0,4.4, 6.0,5.0,4.5,4.6,4.0,3.9,4.3,3.7,4.8,5.5, 7.5,10.0,11.6,8.0,6.2,9.5,6.4,8.5,6.2,11.0, 11.0,12.0,11.0,11.5,11.0,12.0,12.5,16.0,14.0,16.5, 20.5,22.0,34.3,20.0,19.0,19.0,17.5,15.0,13.5,12.0, 18.6,12.5,11.5,10.5,9.0,7.5,6.3,7.5,9.0,7.5, 9.5,13.0,10.5,12.5,19.4,13.0,9.5,10.0,14.4,11.0, 10.5,11.5,13.5,10.5,18.2,15.5,12.0,10.5,11.0,15.0, 10.5,8.5,7.5,6.2,5.0,5.2,5.6,5.0,4.3,3.5, 3.4];

const PANEL_DAYS = [aDays, bDays, cDays, dDays, eDays, fDays];
const PANEL_SERIES = [
  [aReal, aLSTM, aBiLSTM, aWGAN, aGRU, aXW, aVX],
  [bReal, bLSTM, bBiLSTM, bWGAN, bGRU, bXW, bVX],
  [cReal, cLSTM, cBiLSTM, cWGAN, cGRU, cXW, cVX],
  [dReal, dLSTM, dBiLSTM, dWGAN, dGRU, dXW, dVX],
  [eReal, eLSTM, eBiLSTM, eWGAN, eGRU, eXW, eVX],
  [fReal, fLSTM, fBiLSTM, fWGAN, fGRU, fXW, fVX],
];
const PANEL_YMAX = [60000, 60000, 60000, 80000, 80000, 80000];

// ---------- layout ----------
const W = 4117;
const H = 3723;
const COL_X = [253, 2432];
const ROW_Y = [51, 1327, 2553];
const PW = 1598;
const PH = 855;
const SUB_X = [958, 3138];
const SUB_Y = [1225, 2449, 3676];
const FONT = "'Liberation Serif', 'Times New Roman', serif";
const LEG_COLS = [140, 459, 794, 1040, 1325, 140, 459];
const LEG_ROWS = [42, 42, 42, 42, 42, 87, 87];

function Panel({ idx }: { idx: number }) {
  const col = idx % 2;
  const row = Math.floor(idx / 2);
  const x0 = COL_X[col];
  const y0 = ROW_Y[row];
  const year = PANEL_YEARS[idx];
  const start = new Date(Date.UTC(year, 0, 1));
  const end = new Date(Date.UTC(year + 1, 0, 1));
  const x = d3.scaleUtc().domain([start, end]).range([x0, x0 + PW]);
  const yMax = PANEL_YMAX[idx];
  const y = d3.scaleLinear().domain([0, yMax]).range([y0 + PH, y0]);
  const yTicks = yMax === 60000 ? Y_TICKS_60 : Y_TICKS_80;
  const xTicks = d3.utcMonth.every(3)!.range(start, d3.utcDay.offset(end, 1));
  const fmtX = d3.utcFormat('%Y/%-m/%-d');
  const fmtY = d3.format(',');
  const days = PANEL_DAYS[idx];
  const line = d3
    .line<[Date, number]>()
    .x((d) => x(d[0]))
    .y((d) => y(d[1] * 1000));
  const bottom = y0 + PH;

  return (
    <g>
      {PANEL_SERIES[idx].map((vals, si) => {
        const n = Math.min(vals.length, days.length);
        const pts: [Date, number][] = [];
        for (let i = 0; i < n; i++) pts.push([d3.utcDay.offset(start, days[i]), vals[i]]);
        return (
          <path
            key={si}
            d={line(pts) || ''}
            fill="none"
            stroke={SERIES_COLORS[si]}
            strokeWidth={3}
            strokeDasharray={SERIES_DASH[si]}
            strokeLinejoin="round"
          />
        );
      })}
      <rect x={x0} y={y0} width={PW} height={PH} fill="none" stroke="#000" strokeWidth={3} />
      {yTicks.map((t) => (
        <g key={'y' + t}>
          <line x1={x0 - 19} x2={x0} y1={y(t)} y2={y(t)} stroke="#000" strokeWidth={3} />
          <text x={x0 - 33} y={y(t)} dy="0.35em" textAnchor="end" fontSize={41} fontFamily={FONT} fill="#111">
            {fmtY(t)}
          </text>
        </g>
      ))}
      {xTicks.map((t) => (
        <g key={'x' + t.getTime()}>
          <line x1={x(t)} x2={x(t)} y1={bottom} y2={bottom + 19} stroke="#000" strokeWidth={3} />
          <text x={x(t)} y={bottom + 64} textAnchor="middle" fontSize={40} fontFamily={FONT} fill="#111">
            {fmtX(t)}
          </text>
        </g>
      ))}
      <text x={x0 + PW / 2} y={bottom + 116} textAnchor="middle" fontSize={44} fontFamily={FONT} fill="#111">
        {X_TITLE}
      </text>
      <text
        transform={`translate(${x0 - 166},${y0 + PH / 2}) rotate(-90)`}
        textAnchor="middle"
        fontSize={48}
        fontFamily={FONT}
        fill="#111"
      >
        Runoff(m<tspan baselineShift="super" fontSize={32}>3</tspan>/s)
      </text>
      {SERIES_NAMES.map((name, si) => {
        const lx = x0 + LEG_COLS[si];
        const ly = y0 + LEG_ROWS[si];
        return (
          <g key={'l' + si}>
            <line
              x1={lx}
              x2={lx + 81}
              y1={ly}
              y2={ly}
              stroke={SERIES_COLORS[si]}
              strokeWidth={3}
              strokeDasharray={SERIES_DASH[si]}
            />
            <circle cx={lx + 40} cy={ly} r={2.5} fill={SERIES_COLORS[si]} />
            <text x={lx + 89} y={ly + 12} fontSize={35} fontFamily={FONT} fill="#000">
              {name}
            </text>
          </g>
        );
      })}
      <text x={SUB_X[col]} y={SUB_Y[row]} textAnchor="middle" fontSize={78} fontFamily={FONT} fill="#000">
        (<tspan fontWeight="bold">{PANEL_LABELS[idx]}</tspan>)
      </text>
    </g>
  );
}

export default function App() {
  return (
    <svg
      width={W}
      height={H}
      viewBox={`0 0 ${W} ${H}`}
      style={{ position: 'absolute', left: 0, top: 0, display: 'block', background: '#fff' }}
    >
      <rect x={0} y={0} width={W} height={H} fill="#fff" />
      {PANEL_LABELS.map((_, i) => (
        <Panel key={i} idx={i} />
      ))}
    </svg>
  );
}
